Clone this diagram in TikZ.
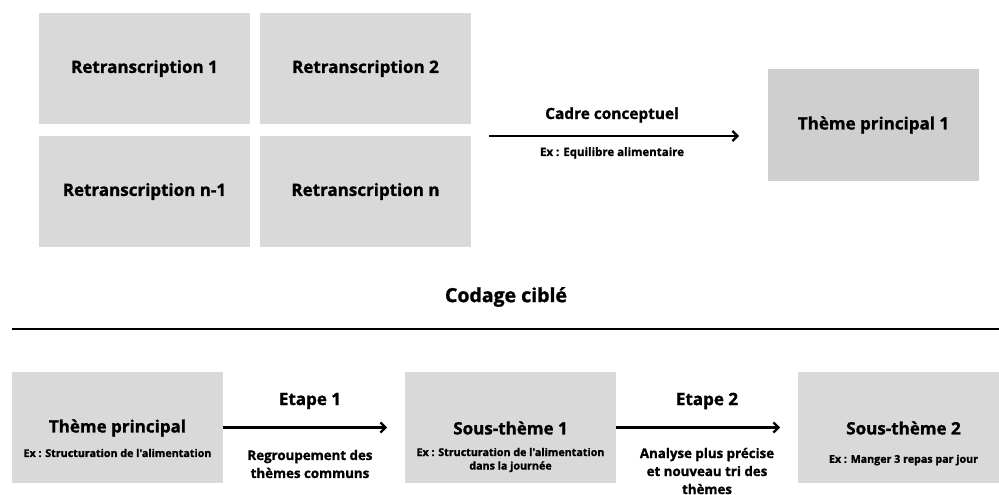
\documentclass[tikz,border=0pt]{standalone}
\usepackage{fontspec}
\setmainfont{Open Sans}[Ligatures=TeXOff, BoldFeatures={FakeBold=1.2}]
\usetikzlibrary{arrows.meta}
\definecolor{boxgray}{HTML}{D9D9D9}
\definecolor{boxgrayb}{HTML}{CFCFCF}
\tikzset{
  tbox/.style={fill=boxgray, draw=none, minimum width=211pt, minimum height=111pt, inner sep=0pt,
    font=\fontsize{17}{20}\selectfont\bfseries, align=center},
  conn/.style={line width=2.2pt, -{Straight Barb[length=5pt,width=10pt,line width=2.2pt]}},
  lbl/.style={font=\fontsize{17}{20}\selectfont\bfseries, inner sep=0pt, align=center},
  sublbl/.style={font=\fontsize{10.7}{13.5}\selectfont\bfseries, inner sep=0pt, align=center},
  steplbl/.style={font=\fontsize{13.3}{18}\selectfont\bfseries, inner sep=0pt, align=center},
}
\begin{document}
\begin{tikzpicture}[x=1pt,y=-1pt]
\useasboundingbox (0,0) rectangle (999,495);
% top grid
\node[tbox] (r1) at (144.5,68.5) {Retranscription 1};
\node[tbox] (r2) at (365.5,68.5) {Retranscription 2};
\node[tbox] (r3) at (144.5,191.5) {Retranscription n-1};
\node[tbox] (r4) at (365.5,191.5) {Retranscription n};
\node[tbox, fill=boxgrayb, minimum height=112pt] (tp1) at (873.5,125) {Thème principal 1};
\coordinate (a0) at (489,136);
\coordinate (a1) at (739,136);
\draw[conn] (a0) -- (a1);
\node[lbl, font=\fontsize{15.4}{18}\selectfont\bfseries] (cc) at (612,115) {Cadre conceptuel};
\node[sublbl, font=\fontsize{11.5}{14}\selectfont\bfseries] (ex1) at (612,153) {Ex : Equilibre alimentaire};
% section heading
\node[lbl, font=\fontsize{19.5}{22}\selectfont\bfseries] (cod) at (506,297) {Codage ciblé};
\coordinate (l0) at (12,329);
\coordinate (l1) at (999,329);
\draw[line width=2.2pt] (l0) -- (l1);
% bottom row
\node[tbox] (b1) at (117.5,427.5) {};
\node[tbox] (b2) at (510.5,427.5) {};
\node[tbox] (b3) at (903.5,427.5) {};
\node[lbl] (t1) at (117.5,428) {Thème principal};
\node[sublbl] (s1) at (117.5,453) {Ex : Structuration de l'alimentation};
\node[lbl] (t2) at (510.5,428) {Sous-thème 1};
\node[sublbl] (s2) at (510.5,460) {Ex : Structuration de l'alimentation\\dans la journée};
\node[lbl] (t3) at (903.5,428) {Sous-thème 2};
\node[sublbl] (s3) at (903.5,460) {Ex : Manger 3 repas par jour};
\draw[conn] (b1.east) -- (b2.west -| 387,0);
\draw[conn] (b2.east) -- (b3.west -| 780,0);
\node[lbl] (e1) at (310,401) {Etape 1};
\node[steplbl] (d1) at (310,464) {Regroupement des\\thèmes communs};
\node[lbl] (e2) at (707,401) {Etape 2};
\node[steplbl] (d2) at (707,471) {Analyse plus précise\\et nouveau tri des\\thèmes};
\end{tikzpicture}
\end{document}
